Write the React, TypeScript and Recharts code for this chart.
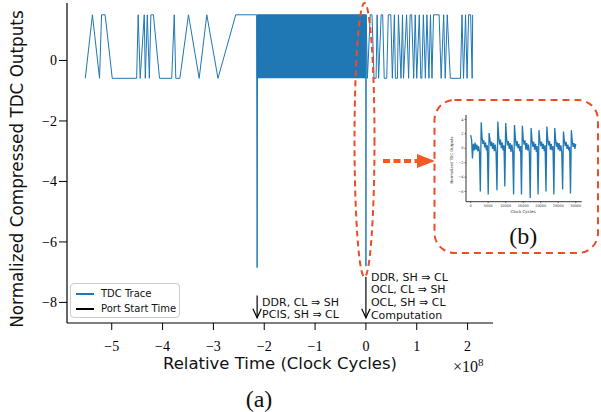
import React from "react";
import {
  LineChart,
  Line,
  XAxis,
  YAxis,
  ReferenceArea,
  ReferenceLine,
  ReferenceDot,
  Legend,
} from "recharts";

const BLUE = "#1f77b4";
const RED = "#ee4b2b";
const ORANGE = "#f15a24";

// TDC levels (normalized)
const HIGH = 1.51;
const LOW = -0.59;

// sparse trace samples, time in units of 1e8 clock cycles
const traceTime = [
  -5.52, -5.38, -5.24, -5.2, -5.13, -4.99, -4.51, -4.48, -4.44, -4.36, -4.34, -4.3, -4.26,
  -4.23, -4.18, -4.06, -3.82, -3.77, -3.74, -3.66, -3.49, -3.28, -3.13, -2.91, -2.56, -2.21,
  -2.15, -2.14, -2.13,
  0, 0, 0.005,
  0.03, 0.085, 0.12, 0.16, 0.2, 0.22, 0.25, 0.3, 0.33, 0.36, 0.41, 0.44, 0.49, 0.52, 0.56,
  0.58, 0.62, 0.64, 0.69, 0.72, 0.74, 0.8, 0.84, 0.87, 0.9, 0.94, 0.97, 1.0, 1.05, 1.08, 1.1,
  1.13, 1.17, 1.2, 1.24, 1.27, 1.3, 1.33, 1.44, 1.48, 1.53, 1.56, 1.6, 1.66, 1.86, 1.89, 1.92,
  1.96, 1.99, 2.02, 2.06, 2.09, 2.1,
];
const traceValue = [
  LOW, HIGH, LOW, HIGH, HIGH, LOW, LOW, HIGH, LOW, HIGH, LOW, HIGH, LOW,
  HIGH, HIGH, LOW, LOW, HIGH, LOW, LOW, HIGH, LOW, HIGH, LOW, HIGH, HIGH,
  HIGH, -6.85, HIGH,
  HIGH, -6.8, HIGH,
  LOW, HIGH, HIGH, LOW, LOW, HIGH, LOW, HIGH, HIGH, LOW, LOW, HIGH, HIGH, LOW, HIGH,
  LOW, LOW, HIGH, LOW, HIGH, LOW, HIGH, LOW, HIGH, HIGH, LOW, HIGH, LOW, HIGH, LOW, LOW,
  HIGH, LOW, HIGH, LOW, HIGH, LOW, HIGH, HIGH, LOW, HIGH, LOW, HIGH, LOW, LOW, HIGH, LOW,
  HIGH, LOW, HIGH, HIGH, LOW, HIGH,
];

// dense burst between the two port start times
const burstStart = -2.15;
const burstEnd = 0;

// port start time arrows
const portTimes = [-2.14, 0];
const portTop = [-7.77, -7.16];
const arrowTip = -8.51;
const portNotes = [
  ["DDR, CL \u21D2 SH", "PCIS, SH \u21D2 CL"],
  ["DDR, SH \u21D2 CL", "OCL, CL \u21D2 SH", "OCL, SH \u21D2 CL", "Computation"],
];
const noteTop = [-7.98, -7.15];

const xTicks = [-5, -4, -3, -2, -1, 0, 1, 2];
const yTicks = [-8, -6, -4, -2, 0];
const X_DOMAIN = [-5.88, 2.5];
const Y_DOMAIN = [-8.68, 1.9];

const legendLabels = ["TDC Trace", "Port Start Time"];
const legendColors = [BLUE, "#000"];

// inset (b): evenly sampled trace
const insetStep = 250;
const insetValues = [
  1.8, 1.2, -1.4, 0.6, -0.3, 0.8, -0.2, 0.5, -0.4, 0.3, -0.5,
  -6.0, 3.6, 1.5, 0.6, 1.1, 0.1, 0.8, -0.3, 0.4,
  -6.4, 2.1, 1.2, 0.3, 0.9, -0.1, 0.7, -0.4, 0.5, -0.6,
  -5.8, 3.7, 1.6, 0.5, 1.2, 0.0, 0.8, -0.3, 0.4,
  -5.3, 3.5, 1.4, 0.4, 1.0, -0.1, 0.7, -0.5, 0.5, -0.4,
  -6.4, 3.2, 1.5, 0.3, 1.0, 0.0, 0.6, -0.4, 0.3,
  -6.4, 3.1, 1.3, 0.5, 1.1, -0.2, 0.7, -0.3, 0.5, -0.6,
  -6.9, 2.8, 1.2, 0.2, 0.9, -0.2, 0.6, -0.5, 0.3,
  -6.4, 2.5, 1.1, 0.3, 0.9, -0.1, 0.6, -0.4, 0.4,
  -6.0, 3.0, 1.3, 0.4, 1.0, -0.2, 0.6, -0.3, 0.3,
  -6.4, 2.8, 1.2, 0.2, 0.8, -0.2, 0.7, -0.4, 0.4, -0.5,
  -5.7, 2.3, 1.0, 0.3, 0.9, -0.1, 0.5, -0.3, 0.2,
  -6.25, 2.5, 1.0, 0.2, 0.7, -0.1, 0.6,
];
const insetXTicks = [0, 5000, 10000, 15000, 20000, 25000, 30000];
const insetYTicks = [-6, -4, -2, 0, 2, 4];

const fmt = (v: number) => (v < 0 ? "\u2212" + Math.abs(v) : String(v));

const traceData = traceTime.map((t, i) => ({ t, v: traceValue[i] }));
const insetData = insetValues.map((v, i) => ({ t: i * insetStep, v }));

const SANS = "DejaVu Sans";
const SERIF = "Liberation Serif";

function ArrowHead(props: any) {
  const { cx, cy } = props;
  return (
    <path
      d={`M${cx - 4.2},${cy - 9} L${cx},${cy} L${cx + 4.2},${cy - 9}`}
      fill="none"
      stroke="#000"
      strokeWidth={1.2}
    />
  );
}

function noteShape(lines: string[]) {
  return (props: any) => {
    const { cx, cy } = props;
    return (
      <text fontFamily={SANS} fontSize={11} fill="#111">
        {lines.map((l, j) => (
          <tspan key={j} x={cx + 5} y={cy + j * 12.6 + 4}>
            {l}
          </tspan>
        ))}
      </text>
    );
  };
}

function LegendBox() {
  return (
    <div
      style={{
        width: 110,
        height: 35,
        boxSizing: "border-box",
        border: "1px solid #cccccc",
        borderRadius: 4,
        background: "rgba(255,255,255,0.8)",
        position: "relative",
        fontFamily: SANS,
        fontSize: 10,
        color: "#111",
      }}
    >
      {legendLabels.map((label, i) => (
        <div key={label} style={{ position: "absolute", left: 0, top: 3 + i * 15, height: 14, width: 110 }}>
          <div style={{ position: "absolute", left: 5, top: 6, width: 18, height: 2, background: legendColors[i] }} />
          <div style={{ position: "absolute", left: 30, top: 0, lineHeight: "14px", whiteSpace: "nowrap" }}>{label}</div>
        </div>
      ))}
    </div>
  );
}

export default function App() {
  const axisStyle = { stroke: "#000", strokeWidth: 1.2 };
  const insetTick = { fill: "#333", fontSize: 3.5, fontFamily: SANS };
  return (
    <div style={{ position: "absolute", left: 0, top: 0, width: 601, height: 412, background: "#fff" }}>
      <div style={{ position: "absolute", left: 0, top: 0 }}>
        <LineChart width={601} height={412} data={traceData} margin={{ top: 3, right: 108, bottom: 59, left: 17 }}>
          <XAxis
            dataKey="t"
            type="number"
            domain={X_DOMAIN}
            ticks={xTicks}
            tickFormatter={fmt}
            height={30}
            tickSize={7}
            tickMargin={11}
            axisLine={axisStyle}
            tickLine={{ stroke: "#000" }}
            tick={{ fill: "#000", fontSize: 14, fontFamily: SERIF }}
          />
          <XAxis xAxisId="top" orientation="top" type="number" domain={X_DOMAIN} height={0} tick={false} tickLine={false} axisLine={axisStyle} />
          <YAxis
            type="number"
            domain={Y_DOMAIN}
            ticks={yTicks}
            tickFormatter={fmt}
            width={50}
            tickSize={8}
            tickMargin={2}
            axisLine={axisStyle}
            tickLine={{ stroke: "#000" }}
            tick={{ fill: "#000", fontSize: 14, fontFamily: SERIF }}
          />
          <YAxis yAxisId="right" orientation="right" type="number" domain={Y_DOMAIN} width={0} tick={false} tickLine={false} axisLine={axisStyle} />
          <ReferenceArea x1={burstStart} x2={burstEnd} y1={LOW} y2={HIGH} fill={BLUE} fillOpacity={1} stroke="none" />
          <Line dataKey="v" type="linear" stroke={BLUE} strokeWidth={1} dot={false} isAnimationActive={false} />
          {portTimes.map((t, i) => (
            <ReferenceLine
              key={"l" + i}
              segment={[
                { x: t, y: portTop[i] },
                { x: t, y: arrowTip },
              ]}
              stroke="#000"
              strokeWidth={1.2}
            />
          ))}
          {portTimes.map((t, i) => (
            <ReferenceDot key={"a" + i} x={t} y={arrowTip} r={0} shape={ArrowHead} />
          ))}
          {portTimes.map((t, i) => (
            <ReferenceDot key={"n" + i} x={t} y={noteTop[i]} r={0} shape={noteShape(portNotes[i])} />
          ))}
          <Legend
            layout="horizontal"
            align="center"
            verticalAlign="middle"
            content={() => <LegendBox />}
            wrapperStyle={{ left: 70, top: 283, width: 110, height: 35 }}
          />
        </LineChart>
      </div>

      <svg width={601} height={412} style={{ position: "absolute", left: 0, top: 0, pointerEvents: "none" }}>
        <text
          transform="translate(16.5,169) rotate(-90)"
          textAnchor="middle"
          dominantBaseline="central"
          fontFamily={SANS}
          fontSize={16.8}
          fill="#111"
        >
          Normalized Compressed TDC Outputs
        </text>
        <text x={280} y={369} textAnchor="middle" fontFamily={SANS} fontSize={16.5} fill="#111">
          Relative Time (Clock Cycles)
        </text>
        <text x={453} y={372.3} fontFamily={SERIF} fontSize={16} fill="#111">
          {"\u00D710"}
          <tspan dy={-6.5} fontSize={11}>
            8
          </tspan>
        </text>
        <text x={259} y={407} textAnchor="middle" fontFamily={SERIF} fontSize={24} fill="#111">
          (a)
        </text>
        <ellipse cx={364.5} cy={140} rx={10} ry={137} fill="none" stroke={RED} strokeWidth={2} strokeDasharray="6 4" />
        <line x1={383} y1={161} x2={417} y2={161} stroke={ORANGE} strokeWidth={4} strokeDasharray="7 3.5" />
        <path d="M417,154 L435,161 L417,168 Z" fill={ORANGE} />
        <rect x={434.5} y={100} width={163.5} height={153} rx={20} ry={20} fill="#fff" stroke={RED} strokeWidth={2} strokeDasharray="7 5" />
        <text x={523.3} y={244} textAnchor="middle" fontFamily={SERIF} fontSize={24} fill="#111">
          (b)
        </text>
        <text transform="translate(451.7,160) rotate(-90)" textAnchor="middle" dominantBaseline="central" fontFamily={SANS} fontSize={3.8} fill="#333">
          Normalized TDC Outputs
        </text>
        <text x={523} y={213} textAnchor="middle" fontFamily={SANS} fontSize={4} fill="#333">
          Clock Cycles
        </text>
      </svg>

      <div style={{ position: "absolute", left: 446, top: 110 }}>
        <LineChart width={140} height={112} data={insetData} margin={{ top: 5, right: 4.3, bottom: 12.3, left: 8 }}>
          <XAxis
            dataKey="t"
            type="number"
            domain={[-1340, 31700]}
            ticks={insetXTicks}
            height={8}
            tickSize={1.5}
            tickMargin={1}
            axisLine={{ stroke: "#000", strokeWidth: 0.8 }}
            tickLine={{ stroke: "#000", strokeWidth: 0.5 }}
            tick={insetTick}
          />
          <XAxis xAxisId="top" orientation="top" type="number" domain={[-1340, 31700]} height={0} tick={false} tickLine={false} axisLine={{ stroke: "#000", strokeWidth: 0.8 }} />
          <YAxis
            type="number"
            domain={[-7.4, 4.6]}
            ticks={insetYTicks}
            tickFormatter={fmt}
            width={12}
            tickSize={1.5}
            tickMargin={1}
            axisLine={{ stroke: "#000", strokeWidth: 0.8 }}
            tickLine={{ stroke: "#000", strokeWidth: 0.5 }}
            tick={insetTick}
          />
          <YAxis yAxisId="right" orientation="right" type="number" domain={[-7.4, 4.6]} width={0} tick={false} tickLine={false} axisLine={{ stroke: "#000", strokeWidth: 0.8 }} />
          <Line dataKey="v" type="linear" stroke={BLUE} strokeWidth={1.3} dot={false} isAnimationActive={false} />
        </LineChart>
      </div>
    </div>
  );
}
